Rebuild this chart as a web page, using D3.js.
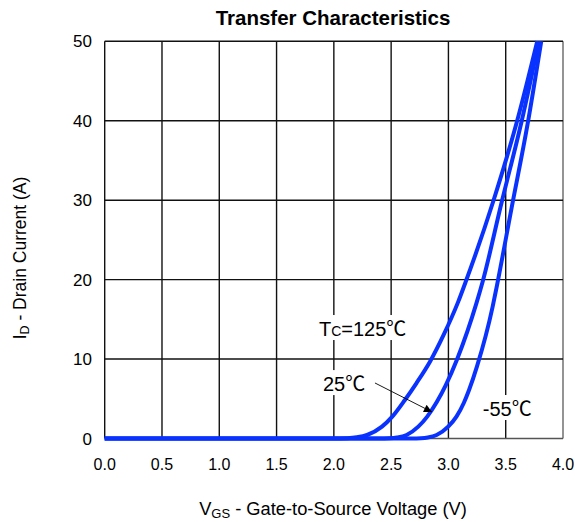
<!DOCTYPE html>
<html>
<head>
<meta charset="utf-8">
<script src="https://cdn.jsdelivr.net/npm/d3@7"></script>
<style>
  html, body { margin: 0; padding: 0; background: #fff; }
  svg { display: block; font-family: "Liberation Sans", Arial, sans-serif; }
</style>
</head>
<body>
<svg id="chart" width="575" height="522"></svg>
<script>
// Gate voltage ticks (V) and drain current ticks (A)
const xTicks = [0, 0.5, 1.0, 1.5, 2.0, 2.5, 3.0, 3.5, 4.0];
const yTicks = [0, 10, 20, 30, 40, 50];

// Transfer curves: [VGS (V), ID (A)]
const curve125 = [
  [0, 0], [2.0, 0], [2.12, 0.04], [2.2, 0.15], [2.29, 0.44], [2.42, 1.49],
  [2.51, 2.75], [2.62, 4.85], [2.72, 6.95], [2.84, 9.7], [2.96, 13.1],
  [3.085, 17.2], [3.15, 19.7], [3.39, 29.8], [3.60, 40], [3.775, 50]
];
const curve25 = [
  [0, 0], [2.4, 0], [2.48, 0.03], [2.55, 0.12], [2.635, 0.44], [2.737, 1.49],
  [2.815, 2.75], [2.897, 4.55], [2.975, 6.65], [3.075, 9.95], [3.246, 17.1],
  [3.298, 19.7], [3.464, 29.7], [3.64, 40], [3.79, 50]
];
const curveM55 = [
  [0, 0], [2.68, 0], [2.76, 0.03], [2.82, 0.12], [2.897, 0.44], [2.998, 1.49],
  [3.07, 2.75], [3.135, 4.5], [3.18, 6.1], [3.25, 9.1], [3.386, 16.6],
  [3.42, 19.0], [3.551, 29.0], [3.69, 39.5], [3.81, 50]
];

const svg = d3.select("#chart");
const W = 575, H = 522;
const margin = { left: 104.7, right: W - 563, top: 41.3, bottom: H - 438.5 };

const x = d3.scaleLinear().domain([0, 4]).range([margin.left, W - margin.right]);
const y = d3.scaleLinear().domain([0, 50]).range([H - margin.bottom, margin.top]);

// Grid
const grid = svg.append("g");
grid.selectAll("line.vx").data(xTicks).join("line")
  .attr("x1", d => x(d)).attr("x2", d => x(d))
  .attr("y1", y(0)).attr("y2", y(50))
  .attr("stroke", d => d === 4 ? "#666" : "#111").attr("stroke-width", 1.4);
grid.selectAll("line.hy").data(yTicks).join("line")
  .attr("x1", x(0)).attr("x2", x(4))
  .attr("y1", d => y(d)).attr("y2", d => y(d))
  .attr("stroke", d => d === 0 ? "#555" : "#111").attr("stroke-width", 1.4);

// Tick labels
svg.append("g").selectAll("text").data(xTicks).join("text")
  .attr("x", d => x(d)).attr("y", 470)
  .attr("text-anchor", "middle").attr("font-size", 16).attr("fill", "#000")
  .text(d => d.toFixed(1));
svg.append("g").selectAll("text").data(yTicks).join("text")
  .attr("x", 92).attr("y", d => y(d) + 6)
  .attr("text-anchor", "end").attr("font-size", 17).attr("fill", "#000")
  .text(d => d);

// Curves
const line = d3.line().x(d => x(d[0])).y(d => y(d[1])).curve(d3.curveMonotoneX);
const plot = svg.append("g");
[curve125, curve25, curveM55].forEach(c => {
  plot.append("path").datum(c)
    .attr("d", line)
    .attr("fill", "none")
    .attr("stroke", "#0a32ff")
    .attr("stroke-width", 4)
    .attr("stroke-linejoin", "round");
});

// Annotations with white backing
function label(vx, iy, parts) {
  const g = svg.append("g");
  const bg = g.append("rect").attr("fill", "#fff");
  const t = g.append("text").attr("x", x(vx)).attr("y", y(iy))
    .attr("font-size", 20).attr("fill", "#000");
  parts.forEach(p => {
    const s = t.append("tspan").text(p.t);
    if (p.size) s.attr("font-size", p.size);
    if (p.font) s.attr("font-family", p.font);
  });
  const b = t.node().getBBox();
  bg.attr("x", b.x - 1).attr("y", b.y + 2).attr("width", b.width + 2).attr("height", b.height - 4);
}
const cjk = "'Noto Sans CJK SC', sans-serif";
label(1.870, 12.9, [{ t: "T" }, { t: "C", size: 14 }, { t: "=125" }, { t: "℃", font: cjk, size: 20 }]);
label(1.905, 5.97, [{ t: "25" }, { t: "℃", font: cjk, size: 20 }]);
label(3.30, 2.83, [{ t: "-55" }, { t: "℃", font: cjk, size: 20 }]);

// Pointer to the 25 ℃ curve
svg.append("defs").append("marker")
  .attr("id", "arrow").attr("viewBox", "0 0 10 10")
  .attr("refX", 10).attr("refY", 5)
  .attr("markerWidth", 10).attr("markerHeight", 8)
  .attr("markerUnits", "userSpaceOnUse")
  .attr("orient", "auto")
  .append("path").attr("d", "M0,0 L10,5 L0,10 z").attr("fill", "#000");
svg.append("line")
  .attr("x1", x(2.359)).attr("y1", y(6.99))
  .attr("x2", x(2.856)).attr("y2", y(3.34))
  .attr("stroke", "#000").attr("stroke-width", 0.9)
  .attr("marker-end", "url(#arrow)");

// Title
svg.append("text").attr("x", 333).attr("y", 25)
  .attr("text-anchor", "middle").attr("font-size", 20.5).attr("font-weight", "bold")
  .text("Transfer Characteristics");

// X axis title
const xt = svg.append("text").attr("x", 333).attr("y", 515)
  .attr("text-anchor", "middle").attr("font-size", 18.3);
xt.append("tspan").text("V");
xt.append("tspan").attr("font-size", 13).attr("dy", 3).text("GS");
xt.append("tspan").attr("dy", -3).text(" - Gate-to-Source Voltage (V)");

// Y axis title
const yt = svg.append("text")
  .attr("transform", "translate(26,258) rotate(-90)")
  .attr("text-anchor", "middle").attr("font-size", 17.5);
yt.append("tspan").text("I");
yt.append("tspan").attr("font-size", 12.5).attr("dy", 3).text("D");
yt.append("tspan").attr("dy", -3).text(" - Drain Current (A)");
</script>
</body>
</html>
